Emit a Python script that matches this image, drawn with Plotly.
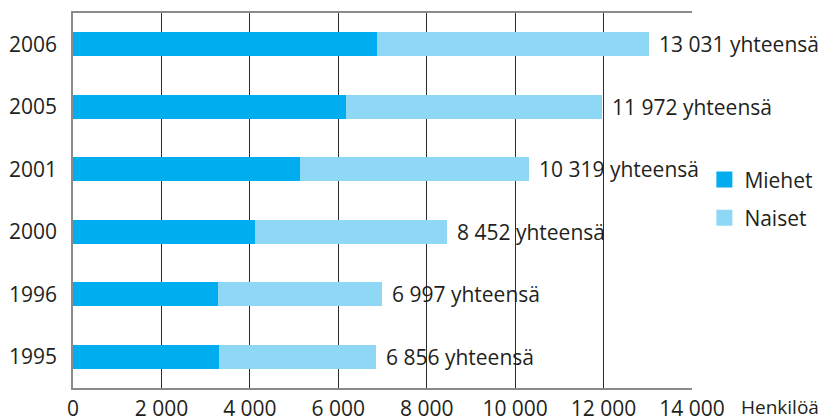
import plotly.graph_objects as go

years = ["1995", "1996", "2000", "2001", "2005", "2006"]
miehet = [3300, 3290, 4115, 5135, 6175, 6870]
totals = [6856, 6997, 8452, 10319, 11972, 13031]
naiset = [t - m for t, m in zip(totals, miehet)]
tick_vals = [0, 2000, 4000, 6000, 8000, 10000, 12000, 14000]
tick_text = [f"{v:,}".replace(",", " ") for v in tick_vals]
total_labels = [f"{v:,}".replace(",", " ") + " yhteensä" for v in totals]

C_M = "#00AEEF"
C_N = "#8ED8F6"
FONT = "Open Sans"
TXT = "#231f20"
FS = 21

fig = go.Figure()
fig.add_trace(go.Bar(y=years, x=miehet, orientation="h", name="Miehet",
                     marker=dict(color=C_M, line=dict(width=0)), width=0.39,
                     showlegend=False))
fig.add_trace(go.Bar(y=years, x=naiset, orientation="h", name="Naiset",
                     marker=dict(color=C_N, line=dict(width=0)), width=0.39,
                     showlegend=False))
# legend entries
fig.add_trace(go.Scatter(x=[None], y=[None], mode="markers", name="Miehet",
                         marker=dict(symbol="square", size=16, color=C_M),
                         legendgroup="m"))
fig.add_trace(go.Scatter(x=[None], y=[None], mode="markers", name="Naiset",
                         marker=dict(symbol="square", size=16, color=C_N),
                         legendgroup="n"))

for i, (t, lab) in enumerate(zip(totals, total_labels)):
    fig.add_annotation(x=t, y=i, xref="x", yref="y", text=lab, showarrow=False,
                       xanchor="left", yanchor="middle", xshift=8,
                       font=dict(family=FONT, size=FS, color=TXT))

fig.add_annotation(x=1.0, y=0, xref="paper", yref="paper", text="Henkilöä",
                   showarrow=False, xanchor="left", yanchor="middle",
                   xshift=47, yshift=-19,
                   font=dict(family=FONT, size=19, color=TXT))

# page body adds an 8px offset; figure is sized to fill the rest of the window
fig.update_layout(
    width=819, height=411,
    margin=dict(l=65, r=135, t=5, b=31, autoexpand=False),
    barmode="stack",
    plot_bgcolor="white", paper_bgcolor="white",
    font=dict(family=FONT, size=FS, color=TXT),
    legend=dict(x=1.02, y=0.61, xanchor="left", yanchor="top",
                font=dict(family=FONT, size=FS, color=TXT),
                tracegroupgap=8, itemsizing="trace", bgcolor="rgba(0,0,0,0)"),
    xaxis=dict(range=[0, 14000], tickvals=tick_vals, ticktext=tick_text,
               showgrid=True, gridcolor="#2b2b2b", gridwidth=1,
               showline=True, linecolor="#8a8a8a", linewidth=1.5, mirror=True,
               zeroline=False, ticks="", ticklen=0, ticklabelstandoff=1,
               automargin=False,
               tickfont=dict(family=FONT, size=FS, color=TXT)),
    yaxis=dict(type="category", categoryorder="array", categoryarray=years,
               range=[-0.5, 5.5], showgrid=False, automargin=False,
               showline=True, linecolor="#8a8a8a", linewidth=1.5, mirror=False,
               ticks="", ticklen=0, ticklabelstandoff=10,
               tickfont=dict(family=FONT, size=FS, color=TXT)),
)

fig.write_html("out.html")
